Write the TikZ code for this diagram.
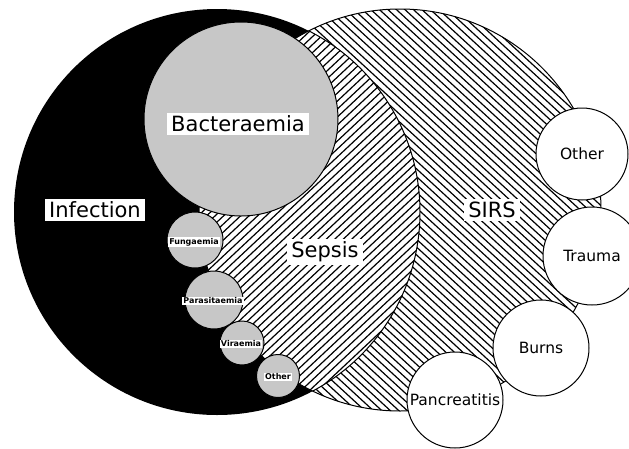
\documentclass[tikz,border=0pt]{standalone}
\usepackage{fontspec}
\setmainfont{DejaVu Sans}

\begin{document}
\begin{tikzpicture}[x=1pt,y=-1pt,
  big/.style={fill=white,inner xsep=4pt,inner ysep=3pt,font=\fontsize{21}{24}\selectfont},
  tiny/.style={fill=white,inner sep=1pt,font=\fontsize{8}{9}\selectfont\bfseries},
  germ/.style={draw,circle,fill=black!22,line width=1pt,inner sep=0pt},
  cause/.style={draw,circle,fill=white,line width=1pt,inner sep=0pt,font=\fontsize{15.5}{18}\selectfont},
  hatch/.style={line width=1.2pt}]
  \useasboundingbox (0,0) rectangle (629,448);
  % SIRS
  \begin{scope}
    \clip (400,210) circle (201pt);
    \fill[white] (400,210) circle (201pt);
    \foreach \c in {-260,-251.5,...,610} \draw[hatch] (\c,0) -- ++(500,460);
  \end{scope}
  \draw[line width=1pt] (400,210) circle (201pt);
  % infection
  \fill (217,212) circle (203pt);
  % sepsis (overlap)
  \begin{scope}
    \clip (217,212) circle (203pt);
    \clip (400,210) circle (201pt);
    \fill[white] (0,0) rectangle (629,448);
    \foreach \c in {190,198.5,...,880} \draw[hatch] (\c,0) -- ++(-490,460);
  \end{scope}
  \begin{scope}
    \clip (217,212) circle (203pt);
    \draw[line width=1pt] (400,210) circle (201pt);
  \end{scope}
  \begin{scope}
    \clip (400,210) circle (201pt);
    \draw[line width=1pt] (217,212) circle (203pt);
  \end{scope}
  % micro-organisms
  \node[germ,minimum size=194pt] (bact) at (241,119) {};
  \node[germ,minimum size=56pt] (fung) at (195,240) {};
  \node[germ,minimum size=58pt] (para) at (214,300) {};
  \node[germ,minimum size=44pt] (vira) at (242,343) {};
  \node[germ,minimum size=43pt] (othg) at (278,376) {};
  % other causes of SIRS
  \node[cause,minimum size=92pt] (oth) at (582,154) {Other};
  \node[cause,minimum size=98pt] (trauma) at (592,256) {Trauma};
  \node[cause,minimum size=96pt] (burns) at (541,348) {Burns};
  \node[cause,minimum size=96pt] (panc) at (455,400) {Pancreatitis};
  % labels
  \node[big] (infl) at (95,210) {Infection};
  \node[big] (bactl) at (238,124) {Bacteraemia};
  \node[big] (sepl) at (325,252) {Sepsis};
  \node[big] (sirsl) at (492,210) {SIRS};
  \node[tiny] (fungl) at (194,242) {Fungaemia};
  \node[tiny] (paral) at (213,301) {Parasitaemia};
  \node[tiny] (viral) at (241,344) {Viraemia};
  \node[tiny] (othgl) at (278,377) {Other};
\end{tikzpicture}
\end{document}
